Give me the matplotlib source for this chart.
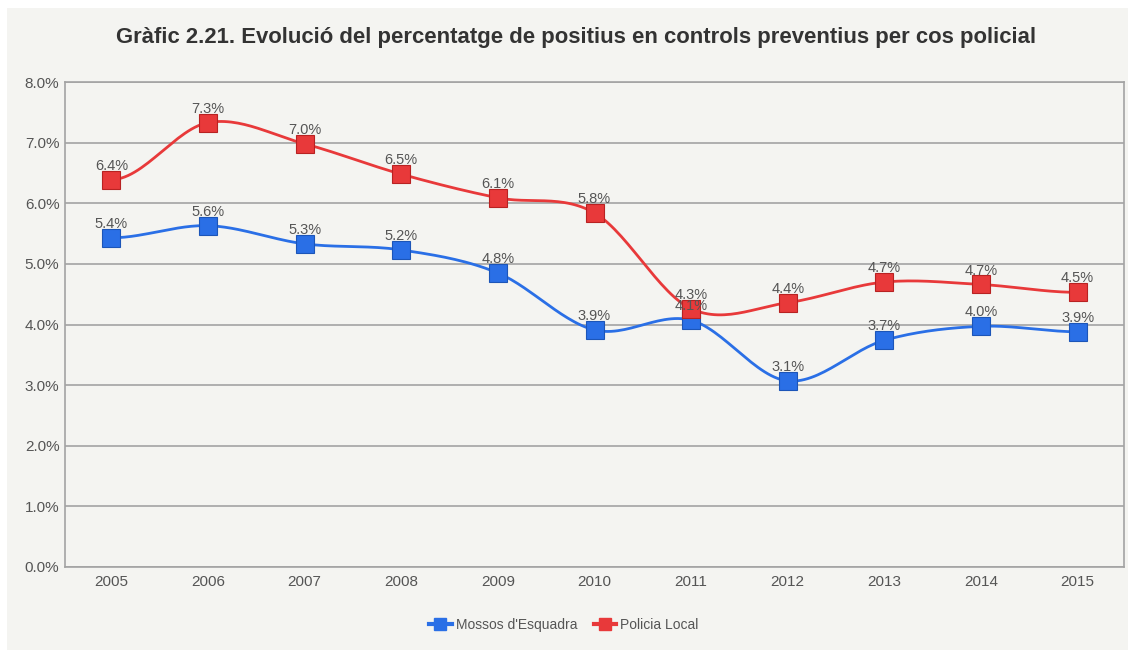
import numpy as np
import matplotlib.pyplot as plt
from matplotlib.patches import Rectangle
from matplotlib.lines import Line2D

years = ["2005", "2006", "2007", "2008", "2009", "2010", "2011", "2012", "2013", "2014", "2015"]
mossos = [5.43, 5.63, 5.33, 5.23, 4.85, 3.91, 4.07, 3.07, 3.74, 3.97, 3.88]
policia = [6.39, 7.33, 6.98, 6.48, 6.09, 5.84, 4.26, 4.36, 4.70, 4.66, 4.53]

title = "Gràfic 2.21. Evolució del percentatge de positius en controls preventius per cos policial"
series_names = ["Mossos d'Esquadra", "Policia Local"]

BG = "#f4f4f1"
GRID = "#a3a3a3"
TXT = "#555555"
BLUE = "#2a6fe6"
RED = "#e8393a"


def smooth(x, y, n=30):
    # Catmull-Rom style curve through the points (only for the line shape)
    x = np.asarray(x, float)
    y = np.asarray(y, float)
    m = np.zeros_like(y)
    m[1:-1] = (y[2:] - y[:-2]) / (x[2:] - x[:-2])
    xs, ys = [], []
    for i in range(len(x) - 1):
        t = np.linspace(0, 1, n)
        h = x[i + 1] - x[i]
        h00 = 2 * t**3 - 3 * t**2 + 1
        h10 = t**3 - 2 * t**2 + t
        h01 = -2 * t**3 + 3 * t**2
        h11 = t**3 - t**2
        xs.append(x[i] + t * h)
        ys.append(h00 * y[i] + h10 * h * m[i] + h01 * y[i + 1] + h11 * h * m[i + 1])
    return np.concatenate(xs), np.concatenate(ys)


plt.rcParams["font.family"] = ["Liberation Sans", "DejaVu Sans"]

fig = plt.figure(figsize=(11.28, 6.5), dpi=100, facecolor="white")
fig.patches.append(Rectangle((7 / 1128, 0), 1 - 7 / 1128, 1 - 8 / 650,
                             transform=fig.transFigure, facecolor=BG,
                             edgecolor="none", zorder=-10))

ax = fig.add_axes([65 / 1128, 1 - 567 / 650, (1124 - 65) / 1128, (567 - 82) / 650])
ax.set_facecolor(BG)

x = np.arange(len(years))
for vals, col, edge in [(mossos, BLUE, "#1c55b8"), (policia, RED, "#b82222")]:
    sx, sy = smooth(x, vals)
    ax.plot(sx, sy, color=col, lw=2, zorder=3)
    ax.plot(x, vals, ls="none", marker="s", markersize=12.5, color=col,
            markeredgecolor=edge, markeredgewidth=0.8, zorder=4)
    for xi, v in zip(x, vals):
        ax.annotate(f"{v:.1f}%", (xi, v), xytext=(0, 5), textcoords="offset points",
                    ha="center", va="bottom", fontsize=10.5, color=TXT, zorder=5)

ax.set_xlim(-0.48, len(years) - 0.52)
ax.set_ylim(0, 8)
ax.set_yticks(np.arange(0, 9, 1))
ax.set_yticklabels([f"{v:.1f}%" for v in range(9)])
ax.set_xticks(x)
ax.set_xticklabels(years)
ax.tick_params(axis="both", length=0, labelsize=11, labelcolor=TXT)
ax.tick_params(axis="x", pad=6)
ax.tick_params(axis="y", pad=4)
ax.grid(axis="y", color=GRID, lw=1.2, zorder=1)
ax.set_axisbelow(True)
for s in ["left", "right", "bottom", "top"]:
    ax.spines[s].set_color(GRID)
    ax.spines[s].set_linewidth(1.2)

fig.text(0.511, 1 - 38 / 650, title, ha="center", va="center",
         fontsize=15.9, fontweight="bold", color="#333333")

handles = [Line2D([0], [0], color=BLUE, lw=3, marker="s", markersize=8),
           Line2D([0], [0], color=RED, lw=3, marker="s", markersize=8)]
fig.legend(handles, series_names, loc="center", bbox_to_anchor=(0.5, 1 - 625 / 650),
           ncol=2, frameon=False, fontsize=10, handlelength=1.6, handletextpad=0.3,
           columnspacing=1.2, labelcolor=TXT)

fig.savefig("out.png", dpi=100, facecolor="white")
